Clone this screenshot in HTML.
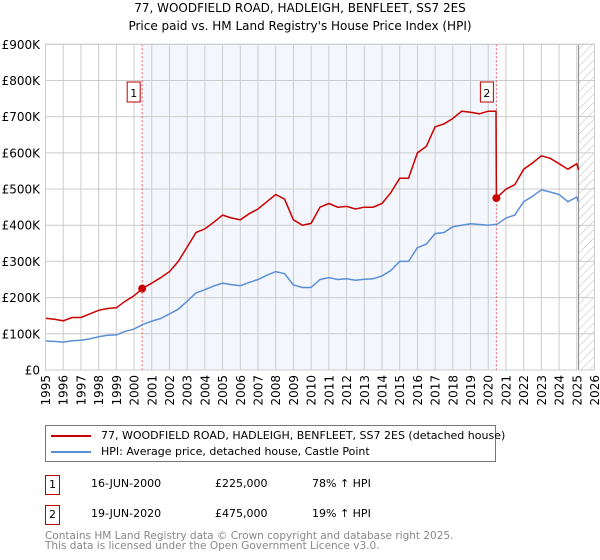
<!DOCTYPE html>
<html><head><meta charset="utf-8"><style>
body{margin:0;background:#fff;font-family:"DejaVu Sans","Liberation Sans",sans-serif;}
#wrap{position:relative;width:600px;height:560px;overflow:hidden}
.t{position:absolute;font-size:11px;color:#000;white-space:nowrap}
</style></head><body><div id="wrap">
<div class="t" style="left:0;width:600px;text-align:center;top:1px;font-size:12px">77, WOODFIELD ROAD, HADLEIGH, BENFLEET, SS7 2ES</div>
<div class="t" style="left:0;width:600px;text-align:center;top:19px;font-size:12px">Price paid vs. HM Land Registry's House Price Index (HPI)</div>
<svg id="chart" width="600" height="420" style="position:absolute;left:0;top:0"></svg>
<div style="position:absolute;left:45px;top:425px;width:449px;height:35px;border:1px solid #777;">
<div style="position:absolute;left:5px;top:3px;font-size:11px;white-space:nowrap"><span style="display:inline-block;width:40px;height:2px;background:#cc0000;vertical-align:middle;margin-right:10px"></span>77, WOODFIELD ROAD, HADLEIGH, BENFLEET, SS7 2ES (detached house)</div>
<div style="position:absolute;left:5px;top:19px;font-size:11px;white-space:nowrap"><span style="display:inline-block;width:40px;height:2px;background:#5b8fd6;vertical-align:middle;margin-right:10px"></span>HPI: Average price, detached house, Castle Point</div>
</div>
<div style="position:absolute;left:45px;top:475px;width:13px;height:18px;border:1px solid #b00;font-size:11px;text-align:center;line-height:18px">1</div>
<div class="t" style="left:91px;top:477px">16-JUN-2000</div>
<div class="t" style="left:215px;top:477px">£225,000</div>
<div class="t" style="left:312px;top:477px">78% ↑ HPI</div>
<div style="position:absolute;left:45px;top:505px;width:13px;height:18px;border:1px solid #b00;font-size:11px;text-align:center;line-height:18px">2</div>
<div class="t" style="left:91px;top:507px">19-JUN-2020</div>
<div class="t" style="left:215px;top:507px">£475,000</div>
<div class="t" style="left:312px;top:507px">19% ↑ HPI</div>
<div class="t" style="left:45px;top:531px;font-size:10.5px;color:#888;line-height:10px">Contains HM Land Registry data © Crown copyright and database right 2025.<br>This data is licensed under the Open Government Licence v3.0.</div>
</div>
<script>
const hpiYears=[1995,1995.5,1996,1996.5,1997,1997.5,1998,1998.5,1999,1999.5,2000,2000.5,2001,2001.5,2002,2002.5,2003,2003.5,2004,2004.5,2005,2005.5,2006,2006.5,2007,2007.5,2008,2008.5,2009,2009.5,2010,2010.5,2011,2011.5,2012,2012.5,2013,2013.5,2014,2014.5,2015,2015.5,2016,2016.5,2017,2017.5,2018,2018.5,2019,2019.5,2020,2020.5,2021,2021.5,2022,2022.5,2023,2023.5,2024,2024.5,2025,2025.1];
const hpiValues=[80,79,77,81,82,86,92,96,97,107,113,126,135,142,155,168,190,213,222,232,240,236,233,242,250,262,272,266,235,228,228,250,255,250,252,248,251,252,260,275,300,300,338,348,377,380,396,400,404,402,400,403,420,428,465,480,498,492,485,465,478,465];
const propYears=[1995,1995.5,1996,1996.5,1997,1997.5,1998,1998.5,1999,1999.5,2000,2000.46,2001,2001.5,2002,2002.5,2003,2003.5,2004,2004.5,2005,2005.5,2006,2006.5,2007,2007.5,2008,2008.5,2009,2009.5,2010,2010.5,2011,2011.5,2012,2012.5,2013,2013.5,2014,2014.5,2015,2015.5,2016,2016.5,2017,2017.5,2018,2018.5,2019,2019.5,2020,2020.44,2020.46,2021,2021.5,2022,2022.5,2023,2023.5,2024,2024.5,2025,2025.1];
const propValues=[143,140,136,145,145,155,165,170,172,190,205,225,240,255,272,300,340,380,390,408,428,420,415,432,445,465,485,472,415,400,405,450,460,450,452,445,450,450,460,490,530,530,600,618,672,680,695,715,712,708,715,715,475,500,512,555,572,592,585,570,555,570,553];
const saleYears=[2000.46,2020.46];
const saleValues=[225,475];
const saleLabels=["1","2"];
const yTicks=[0,100,200,300,400,500,600,700,800,900];
const yTickLabels=["£0","£100K","£200K","£300K","£400K","£500K","£600K","£700K","£800K","£900K"];
const xTicks=[1995,1996,1997,1998,1999,2000,2001,2002,2003,2004,2005,2006,2007,2008,2009,2010,2011,2012,2013,2014,2015,2016,2017,2018,2019,2020,2021,2022,2023,2024,2025,2026];

const X0=45.5,X1=594.5,Y0=370,Y1=44.3;
const xs=y=>X0+(y-1995)/(2026-1995)*(X1-X0);
const ys=v=>Y0-v/900*(Y0-Y1);
const svg=document.getElementById('chart');
const NS='http://www.w3.org/2000/svg';
function mk(tag,attrs){const e=document.createElementNS(NS,tag);for(const k in attrs)e.setAttribute(k,attrs[k]);svg.appendChild(e);return e;}
let defs=document.createElementNS(NS,'defs');
defs.innerHTML='<pattern id="hatch" width="6" height="6" patternUnits="userSpaceOnUse" patternTransform="rotate(45)"><line x1="0" y1="0" x2="0" y2="6" stroke="#bbb" stroke-width="1"/></pattern>';
svg.appendChild(defs);
let e;
e=mk('rect',{x:xs(saleYears[0]),y:Y1,width:xs(saleYears[1])-xs(saleYears[0]),height:Y0-Y1,fill:'#eef3fc',opacity:0.7});


e=mk('rect',{x:xs(2025.1),y:Y1,width:X1-xs(2025.1),height:Y0-Y1,fill:'url(#hatch)'});


yTicks.forEach((t,i)=>{
 e=mk('line',{x1:X0,x2:X1,y1:ys(t),y2:ys(t),stroke:'#ccc','stroke-width':1});
 
 
 e=mk('text',{x:40,y:ys(t)+4.5,'text-anchor':'end','font-size':12,fill:'#000'});
 e.textContent=yTickLabels[i];
 
 
});
xTicks.forEach(t=>{
 e=mk('line',{x1:xs(t),x2:xs(t),y1:Y1,y2:Y0,stroke:'#ccc','stroke-width':1});
 
 
 e=mk('text',{x:0,y:0,'text-anchor':'end','font-size':12,fill:'#000',transform:`translate(${xs(t)+4.5},375) rotate(-90)`});
 e.textContent=t;
 
 
});
e=mk('line',{x1:xs(2025.1),x2:xs(2025.1),y1:Y1,y2:Y0,stroke:'#888','stroke-width':1});


saleYears.forEach(s=>{
 e=mk('line',{x1:xs(s),x2:xs(s),y1:Y1,y2:Y0,stroke:'#e06060','stroke-width':1,'stroke-dasharray':'2,2'});
 
 
});
const path=(xa,va)=>xa.map((x,i)=>(i?'L':'M')+xs(x).toFixed(1)+','+ys(va[i]).toFixed(1)).join('');
e=mk('path',{d:path(hpiYears,hpiValues),fill:'none',stroke:'#5b8fd6','stroke-width':1.5});


e=mk('path',{d:path(propYears,propValues),fill:'none',stroke:'#cc0000','stroke-width':1.5});


saleYears.forEach((s,i)=>{
 e=mk('circle',{cx:xs(s),cy:ys(saleValues[i]),r:4,fill:'#cc0000'});
 
 
 const bx=xs(s)-15+(i?-1:0), by=82;
 e=mk('rect',{x:bx,y:by,width:13,height:20,fill:'#fff',stroke:'#b00','stroke-width':1});
 
 
 e=mk('text',{x:bx+6.5,y:by+15,'text-anchor':'middle','font-size':11,fill:'#000'});
 e.textContent=saleLabels[i];
 
 
});
e=mk('rect',{x:X0,y:Y1,width:X1-X0,height:Y0-Y1,fill:'none',stroke:'#ccc','stroke-width':1});


</script>
</body></html>
